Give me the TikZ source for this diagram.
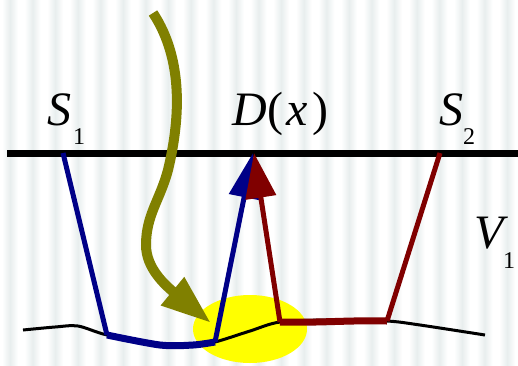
\documentclass[tikz,border=0pt]{standalone}
\usepackage{fontspec}
\setmainfont{Liberation Serif}
\usetikzlibrary{arrows.meta}
\definecolor{stripe}{RGB}{232,238,238}
\definecolor{navyc}{RGB}{0,0,135}
\definecolor{maroonc}{RGB}{128,0,0}
\definecolor{olivec}{RGB}{128,128,0}
\definecolor{yellowc}{RGB}{255,255,0}
\tikzset{
  big/.style={inner sep=0pt, anchor=base west, font=\fontsize{48}{50}\selectfont},
  small/.style={inner sep=0pt, anchor=base west, font=\fontsize{24}{26}\selectfont},
  bluepath/.style={draw=navyc, line width=5pt, line join=round},
  redpath/.style={draw=maroonc, line width=5pt, line join=round},
  bluegnd/.style={draw=navyc, line width=7pt},
  redgnd/.style={draw=maroonc, line width=7pt},
  ptr/.style={-{Triangle[length=45pt,width=30pt]}},
}
\begin{document}
\begin{tikzpicture}[x=1pt,y=-1pt]
\useasboundingbox (0,0) rectangle (518,365);
\fill[white] (0,0) rectangle (518,365);
\foreach \i in {0,...,22}{
  \shade[left color=white, right color=white, middle color=stripe]
    ({10+22.6*\i-8},0) rectangle ({10+22.6*\i+8},365);
}
% yellow spot
\fill[yellowc] (250,329) ellipse [x radius=57, y radius=34];
% ground points
\coordinate (g1) at (23,330);
\coordinate (g2) at (55,327);
\coordinate (g3) at (78,326);
\coordinate (pa) at (107,335);
\coordinate (g5) at (160,345);
\coordinate (g6) at (193,345);
\coordinate (pb) at (215,342);
\coordinate (g8) at (250,331);
\coordinate (pc) at (280,322);
\coordinate (g10) at (330,320);
\coordinate (pd) at (387,321);
\coordinate (g12) at (420,325);
\coordinate (g13) at (485,335);
\draw[black, line width=3pt] plot[smooth, tension=0.5] coordinates {(g1) (g2) (g3) (pa) (g5) (g6) (pb) (g8) (pc) (g10) (pd) (g12) (g13)};
% surface line
\coordinate (L) at (7,153);
\coordinate (R) at (518,153);
\draw[black, line width=7pt] (L) -- (R);
% sources and detector
\coordinate (s1) at (63,153);
\coordinate (s2) at (440,153);
\coordinate (dt) at (253,153);
\coordinate (dr) at (254,153);
% blue ray
\draw[bluepath] (s1) -- (pa);
\draw[bluegnd] plot[smooth, tension=0.5] coordinates {(pa) (g5) (g6) (pb)};
\draw[bluepath, ptr] (pb) -- (dt);
% red ray
\draw[redpath] (s2) -- (pd);
\draw[redgnd] (pd) .. controls (350,320) and (320,323) .. (pc);
\draw[redpath, ptr] (pc) -- (dr);
% olive incoming ray
\coordinate (o0) at (153,13);
\coordinate (o1) at (168,170);
\coordinate (o2) at (146,245);
\coordinate (ot) at (211,323);
\draw[olivec, line width=10pt, -{Triangle[length=50pt,width=34pt]}]
  (o0) .. controls (184,60) and (180,120) .. (o1)
       .. controls (160,200) and (146,215) .. (o2)
       .. controls (146,268) and (165,285) .. (ot);
% labels
\node[big] (S1) at (47,125) {\textit{S}};
\node[small] (S1i) at (73,144) {1};
\node[big] (D) at (232,125) {\textit{D}\kern1pt(\kern3pt\textit{x}\kern4pt)};
\node[big] (S2) at (439,125) {\textit{S}};
\node[small] (S2i) at (463,144) {2};
\node[big] (V) at (474,248) {\textit{V}};
\node[small] (Vi) at (503,268) {1};
\end{tikzpicture}
\end{document}
